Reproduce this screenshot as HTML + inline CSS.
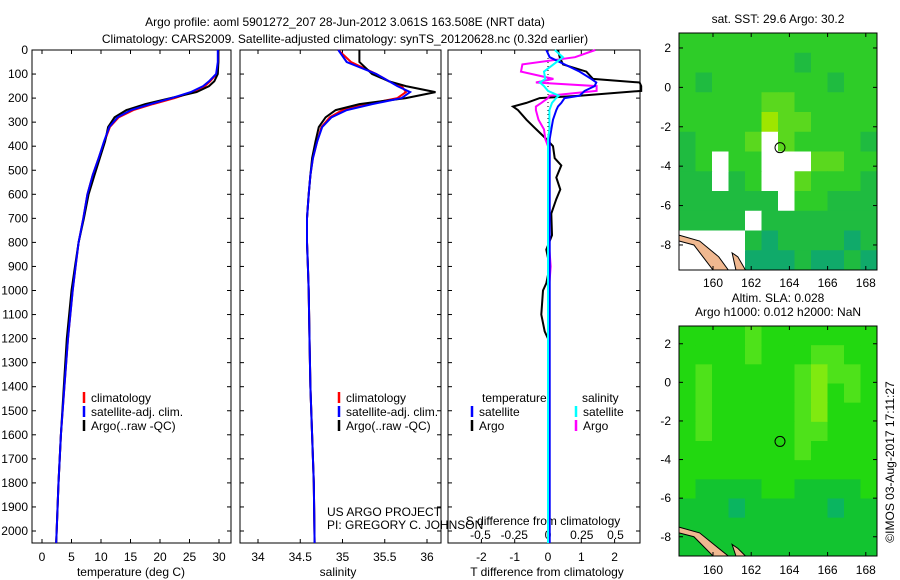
<!DOCTYPE html>
<html><head><meta charset="utf-8"><style>
body{margin:0;background:#fff;}
svg{display:block;font-family:"Liberation Sans",sans-serif;font-size:12px;}
</style></head><body>
<svg id="fig" width="900" height="580" viewBox="0 0 900 580">
<text x="345" y="26" text-anchor="middle">Argo profile: aoml 5901272_207 28-Jun-2012 3.061S 163.508E (NRT data)</text>
<text x="345" y="43" text-anchor="middle">Climatology: CARS2009. Satellite-adjusted climatology: synTS_20120628.nc (0.32d earlier)</text>
<g id="g"></g>
</svg>
<script>
// ---- data ----
const depths=[0,50,100,130,150,175,200,225,250,280,320,380,450,520,600,700,800,900,1000,1200,1400,1600,1800,2050];
const tempClim=[29.9,29.9,29.6,28.5,27.6,25.5,22.5,18.8,15.5,13,11.5,10.6,9.6,8.6,7.7,7,6.2,5.7,5.2,4.4,3.8,3.2,2.8,2.4];
const tempSat=[29.8,29.8,29.5,28.3,27.3,25.2,22,18.4,15.1,12.8,11.4,10.5,9.6,8.6,7.7,7,6.2,5.7,5.2,4.4,3.8,3.2,2.8,2.4];
const tempArgo=[29.9,29.9,29.8,29.2,28.3,26.2,21.8,17.5,14.3,12.3,11.2,10.7,9.8,8.9,7.9,7.1,6.2,5.6,5,4.2,3.7,3.2,2.8,2.4];
const salClim=[34.95,35.1,35.4,35.55,35.7,35.75,35.65,35.3,35.0,34.85,34.75,34.7,34.65,34.62,34.6,34.58,34.58,34.59,34.6,34.61,34.62,34.64,34.66,34.67];
const salSat=[34.95,35.05,35.4,35.55,35.65,35.8,35.7,35.35,35.05,34.87,34.76,34.7,34.65,34.62,34.6,34.58,34.58,34.59,34.6,34.61,34.62,34.64,34.66,34.67];
const salArgo=[35.2,35.2,35.35,35.55,35.75,36.1,35.75,35.2,34.92,34.8,34.72,34.68,34.64,34.62,34.6,34.58,34.58,34.59,34.6,34.61,34.62,34.64,34.66,34.67];
const dDepth=[0,30,60,90,120,135,150,170,190,200,220,235,250,290,330,370,400,450,480,530,580,620,680,770,830,900,970,1000,1100,1170,1200,1500,2050];
const dTargo=[0.3,0.35,0.45,1.15,1.35,2.75,2.8,2.8,0.95,-0.25,-0.65,-1.05,-0.9,-0.65,-0.35,-0.05,0.15,0.2,0.4,0.25,0.37,0.25,0.1,0.12,-0.05,0.05,-0.05,-0.15,-0.2,-0.1,0,0,0];
const dTsat=[-0.05,0.05,0.5,0.95,1.3,1.45,1.4,1.1,0.95,0.5,0.4,0.3,0.25,0.15,0.1,0.05,0.05,0.05,0.05,0.05,0.05,0.05,0.05,0.05,0.05,0.05,0.05,0.05,0.05,0.05,0.05,0.05,0.05];
const dSsat=[0.05,0.11,0.04,-0.03,-0.02,-0.06,-0.03,0.0,0.08,0.06,0.03,0.02,0.01,0.01,0.01,0,0,0,0,0,0,0,0,0,0,0,0,0,0,0,0,0,0];
const dSargo=[0.35,0.2,-0.19,-0.2,0.04,-0.09,0.36,0.36,0.01,0.0,-0.05,-0.09,-0.09,-0.07,-0.03,-0.02,0,0.01,0.01,0.01,0.01,0.01,0.01,0.01,0.01,0.02,0.01,0.01,0.01,0,0,0,0];
const depthTicks=[0,100,200,300,400,500,600,700,800,900,1000,1100,1200,1300,1400,1500,1600,1700,1800,1900,2000];
const tempTicks=[0,5,10,15,20,25,30];
const salTicks=[34,34.5,35,35.5,36];
const dTTicks=[-2,-1,0,1,2];
const dSTicks=[-0.5,-0.25,0,0.25,0.5];
const lonTicks=[160,162,164,166,168];
const latTicks=[2,0,-2,-4,-6,-8];
const sstGrid=["aaaaaaaaaaaa","aaaaaaabaaaa","abaaaaaaabaa","aaaaaddaaaaa","aaaaaeddaaaa","baaadwdaaaab","bawaawwwddaa","bbwbawwdaaab","bbbbbbwaabbb","bbbbwbbbbbbb","wwwwbcbbbbcb","wwwwcccbccbc"];
const slaGrid=["aaaadaaaaaaa","aaaadaaaddaa","adaaaaadedda","adaaaaadeada","adaaaaadeaaa","adaaaaaddaaa","aaaaaaadaaaa","aaaaaaaaaaaa","abbbbaabbbba","bbbcbbbbbcbb","bbbbbbbbbbbb","bbbbbbbbbbbb"];
const argoLon=163.508, argoLat=-3.061;

const NS="http://www.w3.org/2000/svg";
const G=document.getElementById('g');
function mk(t,a,p){const e=document.createElementNS(NS,t);for(const k in a)e.setAttribute(k,a[k]);(p||G).appendChild(e);return e;}
function txt(x,y,s,anchor){const e=mk('text',{x:x,y:y,'text-anchor':anchor||'middle'});e.textContent=s;return e;}
const Y=d=>50+d*0.2405;
const TOP=50,BOT=543;
function panel(x0,x1,name){const r=mk('rect',{x:x0,y:TOP,width:x1-x0,height:BOT-TOP,fill:'none',stroke:'#000'});

}
function line(xs,ds,X,col,name,w){const pts=ds.map((d,i)=>X(xs[i]).toFixed(1)+','+Y(d).toFixed(1)).join(' ');
const p=mk('polyline',{points:pts,fill:'none',stroke:col,'stroke-width':w||2});

}
function xticks(ticks,X,y,fmt,name){ticks.forEach(t=>{const x=X(t);mk('line',{x1:x,x2:x,y1:BOT,y2:BOT-4,stroke:'#000'});mk('line',{x1:x,x2:x,y1:TOP,y2:TOP+4,stroke:'#000'});const e=txt(x,y,fmt?fmt(t):String(t));

});}
// panel 1
const XT=t=>42+t*5.9;
panel(32,231,'temperature-panel');
depthTicks.forEach(d=>{const e=txt(28,Y(d)+4,String(d),'end');


[[32,1],[231,-1],[240,1],[441,-1],[448,1],[640,-1]].forEach(([x,s])=>mk('line',{x1:x,x2:x+4*s,y1:Y(d),y2:Y(d),stroke:'#000'}));});
xticks(tempTicks,XT,561,null,'temperature-tick');
line(tempClim,depths,XT,'#f00','temp-climatology');
line(tempArgo,depths,XT,'#000','temp-argo');
line(tempSat,depths,XT,'#00f','temp-satellite');
txt(131,576,'temperature (deg C)');
// panel 2
const XS=s=>258+(s-34)*84.5;
panel(240,441,'salinity-panel');
xticks(salTicks,XS,561,t=>String(t),'salinity-tick');
line(salClim,depths,XS,'#f00','sal-climatology');
line(salArgo,depths,XS,'#000','sal-argo');
line(salSat,depths,XS,'#00f','sal-satellite');
txt(338,576,'salinity');
// legends
function leg(x,y,col,s){mk('line',{x1:x,x2:x,y1:y-10,y2:y+1,stroke:col,'stroke-width':2.5});const e=txt(x+7,y,s,'start');

}
[['climatology','#f00'],['satellite-adj. clim.','#00f'],['Argo(..raw -QC)','#000']].forEach((l,i)=>{leg(84,402+i*14,l[1],l[0]);leg(339,402+i*14,l[1],l[0]);});
txt(327,516,'US ARGO PROJECT','start');txt(327,529,'PI: GREGORY C. JOHNSON','start');
// panel 3
const XD=t=>548+t*33.3, XDS=s=>548+s*135;
panel(448,640,'difference-panel');
mk('line',{x1:548,x2:548,y1:TOP,y2:BOT,stroke:'#000','stroke-dasharray':'1,3'});
xticks(dTTicks,XD,561,null,'t-diff-tick');
dSTicks.forEach(t=>{const e=txt(XDS(t),539,String(t));

});
txt(543,525,'S difference from climatology');
txt(547,576,'T difference from climatology');
line(dTargo,dDepth,XD,'#000','t-diff-argo');
line(dSargo,dDepth,XDS,'#f0f','s-diff-argo');
line(dTsat,dDepth,XD,'#00f','t-diff-satellite');
line(dSsat,dDepth,XDS,'#0ff','s-diff-satellite');
txt(482,402,'temperature','start');txt(582,402,'salinity','start');
leg(472,416,'#00f','satellite');leg(472,430,'#000','Argo');leg(576,416,'#0ff','satellite');leg(576,430,'#f0f','Argo');
// maps
const COL={a:'#2ecc28',b:'#1fbb40',c:'#10aa6a',d:'#5ad81e',e:'#9ee600',w:'#fff'};
const COL2={a:'#22d810',b:'#12c430',c:'#0ab560',d:'#4ee21a',e:'#80ea10',w:'#fff'};
function map(x0,y0,x1,y1,lat0,latPer,grid,cols,name,labY){
 const LX=l=>713+(l-160)*19.1, LY=l=>y0+(lat0-l)*latPer;
 const g=mk('g',{});
 const nr=grid.length,nc=grid[0].length,cw=(x1-x0)/nc,ch=(y1-y0)/nr;
 grid.forEach((row,r)=>{[...row].forEach((c,k)=>{const rc=mk('rect',{x:x0+k*cw,y:y0+r*ch,width:cw+0.5,height:ch+0.5,fill:cols[c]},g);
 
 });});
 mk('polygon',{points:`${x0},${LY(-7.5)} ${LX(159.3)},${LY(-7.8)} ${LX(160.3)},${LY(-8.6)} ${LX(160.8)},${y1} ${LX(160)},${y1} ${LX(159)},${LY(-8)} ${x0},${LY(-7.8)}`,fill:'#f0b890',stroke:'#000'},g);
 mk('polygon',{points:`${LX(161)},${LY(-8.4)} ${LX(161.3)},${LY(-8.6)} ${LX(161.7)},${y1} ${LX(161.2)},${y1}`,fill:'#f0b890',stroke:'#000'},g);
 mk('rect',{x:x0,y:y0,width:x1-x0,height:y1-y0,fill:'none',stroke:'#000'},g);
 const c=mk('circle',{cx:LX(argoLon),cy:LY(argoLat),r:5,fill:'none',stroke:'#000'},g);
 
 
 lonTicks.forEach(l=>{const x=LX(l);mk('line',{x1:x,x2:x,y1:y1,y2:y1-4,stroke:'#000'});mk('line',{x1:x,x2:x,y1:y0,y2:y0+4,stroke:'#000'});const e=txt(x,labY,String(l));
 
 });
 latTicks.forEach(l=>{const y=LY(l);mk('line',{x1:x0,x2:x0+4,y1:y,y2:y,stroke:'#000'});mk('line',{x1:x1,x2:x1-4,y1:y,y2:y,stroke:'#000'});const e=txt(x0-8,y+4,String(l),'end');
 
 });
}
map(679,33,877,270,2.76,19.7,sstGrid,COL,'sst-map',287);
map(679,326,877,556,2.92,19.3,slaGrid,COL2,'sla-map',574);
txt(778,23,'sat. SST: 29.6 Argo: 30.2');
txt(778,302,'Altim. SLA: 0.028');
txt(778,316,'Argo h1000: 0.012 h2000: NaN');
const v=txt(0,0,'©IMOS 03-Aug-2017 17:11:27');v.setAttribute('transform','translate(894,462) rotate(-90)');


</script>
</body></html>
